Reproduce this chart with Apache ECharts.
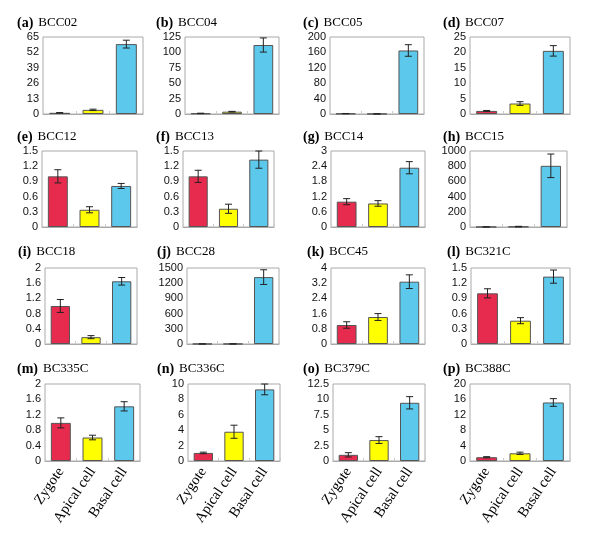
<!DOCTYPE html>
<html>
<head>
<meta charset="utf-8">
<script src="https://cdn.jsdelivr.net/npm/echarts@6/dist/echarts.min.js"></script>
<style>html,body{margin:0;padding:0;background:#fff}#c{width:600px;height:543px}</style>
</head>
<body>
<div id="c"></div>
<script>
// ---- data ----
const categories = ['Zygote', 'Apical cell', 'Basal cell'];
const panelLetters = ['a','b','c','d','e','f','g','h','i','j','k','l','m','n','o','p'];
const geneNames = ['BCC02','BCC04','BCC05','BCC07','BCC12','BCC13','BCC14','BCC15','BCC18','BCC28','BCC45','BC321C','BC335C','BC336C','BC379C','BC388C'];
const zygote    = [1, 1, 1, 1, 1.0, 1.0, 1.0, 1, 1.0, 1, 1.0, 1.0, 0.99, 1.05, 1.0, 0.98];
const zygoteErr = [0.2, 0.3, 0.3, 0.15, 0.13, 0.12, 0.12, 0.3, 0.17, 0.3, 0.17, 0.09, 0.13, 0.1, 0.35, 0.15];
const apical    = [3.5, 3.8, 0.3, 3.4, 0.34, 0.36, 0.93, 5, 0.18, 2, 1.42, 0.46, 0.61, 3.8, 3.4, 2.0];
const apicalErr = [0.6, 0.5, 0.1, 0.6, 0.06, 0.09, 0.11, 4, 0.04, 1, 0.18, 0.06, 0.06, 0.85, 0.55, 0.3];
const basal     = [59, 112, 165, 20.5, 0.81, 1.33, 2.34, 805, 1.65, 1320, 3.28, 1.33, 1.42, 9.3, 9.45, 15.2];
const basalErr  = [3.3, 11.5, 15, 1.7, 0.05, 0.17, 0.24, 155, 0.1, 145, 0.36, 0.13, 0.12, 0.7, 1.0, 1.0];
const yMax      = [65, 125, 200, 25, 1.5, 1.5, 3, 1000, 2, 1500, 4, 1.5, 2, 10, 12.5, 20];
const yInterval = [13, 25, 40, 5, 0.3, 0.3, 0.6, 200, 0.4, 300, 0.8, 0.3, 0.4, 2, 2.5, 4];

// ---- layout (pixels) ----
const gridLeft  = [43,185,330,470, 42,183,331,470, 45,187,331,471, 45,188,333,470];
const gridRight = [143,279,424,570, 137,274,425,567, 137,279,425,570, 140,280,425,570];
const rowTop    = [37, 151, 268, 384];
const rowBottom = [114, 227, 344, 461];
const titleLeft = [17,156,303,443, 17,156,303,443, 18,157,307,447, 17,157,303,443];
const titleTop  = [14, 128, 243, 360];
const barColors = ['#E62B4F', '#FFFF00', '#5BC8EC'];

const grids = [], xAxes = [], yAxes = [], series = [], titles = [];
for (let i = 0; i < 16; i++) {
  const r = Math.floor(i / 4);
  grids.push({
    left: gridLeft[i], top: rowTop[r],
    width: gridRight[i] - gridLeft[i], height: rowBottom[r] - rowTop[r],
    show: true, borderColor: '#aaa', borderWidth: 1, backgroundColor: 'transparent'
  });
  xAxes.push({
    type: 'category', gridIndex: i, data: categories,
    axisLine: { show: true, lineStyle: { color: '#aaa' } },
    axisTick: { show: true, inside: true, length: 3, lineStyle: { color: '#ccc' } },
    axisLabel: {
      show: r === 3, rotate: 56, margin: 8, interval: 0,
      fontFamily: 'Liberation Serif', fontSize: 14.5, color: '#000'
    }
  });
  yAxes.push({
    type: 'value', gridIndex: i, min: 0, max: yMax[i], interval: yInterval[i],
    splitLine: { show: false },
    axisLine: { show: false }, axisTick: { show: false },
    axisLabel: {
      margin: 4, fontFamily: 'Liberation Sans', fontSize: 11, color: '#111',
      formatter: function (v) { return String(parseFloat(Number(v).toPrecision(10))); }
    }
  });
  titles.push({
    left: titleLeft[i], top: titleTop[r], padding: 0,
    text: '{b|(' + panelLetters[i] + ')} {n|' + geneNames[i] + '}',
    textStyle: {
      fontWeight: 'normal',
      rich: {
        b: { fontFamily: 'Liberation Serif', fontWeight: 'bold', fontSize: 14, color: '#000' },
        n: { fontFamily: 'Liberation Serif', fontWeight: 'normal', fontSize: 13, color: '#000' }
      }
    }
  });
  const vals = [zygote[i], apical[i], basal[i]];
  const errs = [zygoteErr[i], apicalErr[i], basalErr[i]];
  series.push({
    type: 'bar', xAxisIndex: i, yAxisIndex: i, barWidth: '63%',
    data: vals.map((v, k) => ({
      value: v,
      itemStyle: { color: barColors[k], borderColor: '#555', borderWidth: 1 }
    })),
    animation: false, silent: true
  });
  series.push({
    type: 'custom', xAxisIndex: i, yAxisIndex: i, z: 5,
    data: vals.map((v, k) => [k, v, errs[k]]),
    encode: { x: 0, y: 1 },
    renderItem: function (params, api) {
      const x = api.value(0), v = api.value(1), e = api.value(2);
      const hi = api.coord([x, v + e]);
      const lo = api.coord([x, Math.max(0, v - e)]);
      const h = 3.5;
      const st = { stroke: '#222', lineWidth: 1 };
      return {
        type: 'group',
        children: [
          { type: 'line', shape: { x1: hi[0], y1: hi[1], x2: lo[0], y2: lo[1] }, style: st },
          { type: 'line', shape: { x1: hi[0] - h, y1: hi[1], x2: hi[0] + h, y2: hi[1] }, style: st },
          { type: 'line', shape: { x1: lo[0] - h, y1: lo[1], x2: lo[0] + h, y2: lo[1] }, style: st }
        ]
      };
    },
    animation: false, silent: true
  });
}

const chart = echarts.init(document.getElementById('c'), null, { renderer: 'canvas' });
chart.setOption({
  backgroundColor: '#fff',
  animation: false,
  title: titles,
  grid: grids,
  xAxis: xAxes,
  yAxis: yAxes,
  series: series
});
</script>
</body>
</html>
